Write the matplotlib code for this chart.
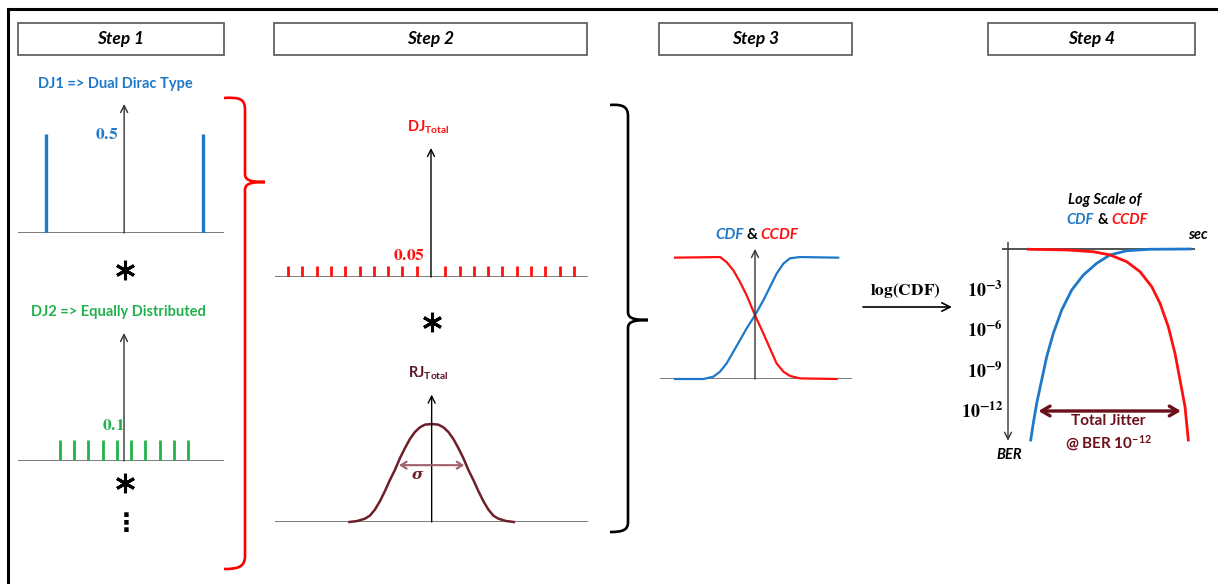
import matplotlib.pyplot as plt
from matplotlib.patches import Rectangle, PathPatch
from matplotlib.path import Path
import numpy as np

plt.rcParams['mathtext.fontset'] = 'custom'
plt.rcParams['mathtext.rm'] = 'STIXGeneral'
plt.rcParams['mathtext.bf'] = 'STIXGeneral:bold'
plt.rcParams['mathtext.it'] = 'STIXGeneral:italic'
plt.rcParams['mathtext.sf'] = 'Lato:bold'
plt.rcParams['font.family'] = ['Lato', 'DejaVu Sans']

# ---- data ----
step_titles = ['Step 1', 'Step 2', 'Step 3', 'Step 4']

# DJ1: dual dirac
dj1_pos = [-1, 1]
dj1_amp = [0.5, 0.5]
# DJ2: equally distributed
dj2_pos = [-4.5, -3.5, -2.5, -1.5, -0.5, 0.5, 1.5, 2.5, 3.5, 4.5]
dj2_amp = [0.1, 0.1, 0.1, 0.1, 0.1, 0.1, 0.1, 0.1, 0.1, 0.1]
# DJ total
djt_pos = [-10, -9, -8, -7, -6, -5, -4, -3, -2, -1,
           1, 2, 3, 4, 5, 6, 7, 8, 9, 10]
djt_amp = [0.05, 0.05, 0.05, 0.05, 0.05, 0.05, 0.05, 0.05, 0.05, 0.05,
           0.05, 0.05, 0.05, 0.05, 0.05, 0.05, 0.05, 0.05, 0.05, 0.05]
# RJ total (sigma units, normalised peak)
rj_t = [-2.65, -2.40, -2.15, -1.99, -1.83, -1.67, -1.51, -1.34, -1.18, -1.02,
        -0.86, -0.70, -0.54, -0.38, -0.22, 0.0,
        0.22, 0.38, 0.54, 0.70, 0.86, 1.02, 1.18, 1.34, 1.51, 1.67,
        1.83, 1.99, 2.15, 2.40, 2.65]
rj_pdf = [0.0, 0.01, 0.034, 0.065, 0.126, 0.211, 0.313, 0.432, 0.534, 0.653,
          0.755, 0.847, 0.918, 0.966, 0.993, 1.0,
          0.993, 0.966, 0.918, 0.847, 0.755, 0.653, 0.534, 0.432, 0.313, 0.211,
          0.126, 0.065, 0.034, 0.01, 0.0]
rj_sigma = 1.05
rj_sigma_level = 0.58

# Step 3: CDF / CCDF
cdf_t = [-2.0, -1.29, -1.04, -0.875, -0.71, -0.54, -0.375, -0.21, 0.0,
         0.21, 0.375, 0.54, 0.71, 0.875, 1.125, 2.08]
cdf_val = [0.0, 0.0, 0.019, 0.06, 0.128, 0.224, 0.319, 0.414, 0.523,
           0.646, 0.755, 0.864, 0.946, 0.99, 1.0, 0.995]
ccdf_t = [-2.0, -0.875, -0.71, -0.54, -0.375, -0.21, 0.0,
          0.21, 0.375, 0.54, 0.71, 0.875, 1.125, 2.04]
ccdf_val = [0.995, 1.0, 0.959, 0.89, 0.796, 0.687, 0.523,
            0.373, 0.25, 0.128, 0.06, 0.025, 0.005, 0.0]

# Step 4: log10(BER) curves
ber_cdf_t = [2.27, 2.53, 2.87, 3.37, 3.87, 4.53, 5.37, 6.37, 7.53, 8.87,
             10.2, 11.87, 14.2, 18.2]
ber_cdf_log = [-14.15, -12.91, -11.43, -9.70, -7.98, -6.25, -4.52, -3.04, -1.93, -1.06,
               -0.44, -0.13, -0.02, 0.0]
ber_ccdf_t = [2.03, 5.87, 8.53, 10.2, 11.87, 13.2, 14.37, 15.2, 16.03, 16.7,
              17.2, 17.7, 18.03]
ber_ccdf_log = [-0.02, -0.07, -0.2, -0.44, -0.94, -1.68, -2.79, -4.02, -5.76, -7.73,
                -9.70, -11.68, -14.15]
ber_ticks = [1e-3, 1e-6, 1e-9, 1e-12]
ber_tick_labels = [r'$\mathbf{10^{-3}}$', r'$\mathbf{10^{-6}}$',
                   r'$\mathbf{10^{-9}}$', r'$\mathbf{10^{-12}}$']
ber_target = 1e-12

BLUE = '#1f78c8'
GREEN = '#22b14c'
RED = '#ff1010'
MAROON = '#6e1f2c'
DARKRED = '#6b0f1a'
GRAY = '#666666'

W, H = 1218, 584
fig = plt.figure(figsize=(12.18, 5.84), dpi=100)
bg = fig.add_axes([0, 0, 1, 1])
bg.set_xlim(0, W)
bg.set_ylim(H, 0)
bg.axis('off')


def panel(x0, x1, ybase, ytop, xlim, ylim, logy=False):
    ax = fig.add_axes([x0 / W, 1 - ybase / H, (x1 - x0) / W, (ybase - ytop) / H])
    if logy:
        ax.set_yscale('log')
    ax.set_xlim(*xlim)
    ax.set_ylim(*ylim)
    ax.axis('off')
    ax.patch.set_alpha(0)
    return ax


def up_arrow(ax, y0, y1, color='#333333'):
    ax.annotate('', xy=(0, y1), xytext=(0, y0),
                arrowprops=dict(arrowstyle='->,head_length=0.5,head_width=0.25',
                                color=color, lw=1.0, shrinkA=0, shrinkB=0),
                annotation_clip=False)


def star(x, y):
    # convolution sign
    bg.plot([x], [y], marker=(6, 2, 0), ms=14, mew=2.2, color='black')


# outer frame
bg.plot([8, 8, W], [H, 9, 9], color='black', lw=2.2, solid_joinstyle='miter')

# step boxes
boxes = [(18, 224), (274, 587), (659, 852), (988, 1195)]
for (bx0, bx1), title in zip(boxes, step_titles):
    bg.add_patch(Rectangle((bx0, 23), bx1 - bx0, 32, fc='white', ec='#555555', lw=1.2))
    bg.text((bx0 + bx1) / 2, 39, title, ha='center', va='center', fontsize=12.5,
            fontweight='bold', style='italic', color='black')

# ---- Step 1: DJ1 ----
ax1 = panel(18, 224, 233, 104, (-1.35, 1.27), (0, 0.65))
ax1.axhline(0, color=GRAY, lw=1.2)
ax1.vlines(dj1_pos, 0, dj1_amp, color=BLUE, lw=2.4)
up_arrow(ax1, 0, 0.65)
ax1.text(-0.07, dj1_amp[0], r'$\mathbf{0.5}$', ha='right', va='center', color=BLUE, fontsize=12.5)
bg.text(115, 84, 'DJ1 => Dual Dirac Type', ha='center', va='center', color=BLUE,
        fontsize=10.5, fontweight='bold')
star(125, 270)

# ---- Step 1: DJ2 ----
ax2 = panel(18, 224, 461, 333, (-7.40, 6.98), (0, 0.61))
ax2.axhline(0, color=GRAY, lw=1.2)
ax2.vlines(dj2_pos, 0, dj2_amp, color=GREEN, lw=2.0)
up_arrow(ax2, 0, 0.61)
ax2.text(0.05, dj2_amp[0] + 0.07, r'$\mathbf{0.1}$', ha='right', va='center', color=GREEN, fontsize=12.5)
bg.text(118, 312, 'DJ2 => Equally Distributed', ha='center', va='center', color=GREEN,
        fontsize=10.5, fontweight='bold')
star(125, 483)
bg.text(126, 524, '\u22ee', ha='center', va='center', fontsize=18, fontweight='bold',
        color='black', family='DejaVu Sans')

# red brace
red_brace = Path(
    [(224, 98), (240, 97), (245, 99), (245, 110),
     (245, 174), (245, 180), (250, 182), (265, 182),
     (250, 182), (245, 184), (245, 190),
     (245, 556), (245, 567), (238, 569), (224, 569)],
    [Path.MOVETO, Path.CURVE4, Path.CURVE4, Path.CURVE4,
     Path.LINETO, Path.CURVE4, Path.CURVE4, Path.CURVE4,
     Path.CURVE4, Path.CURVE4, Path.CURVE4,
     Path.LINETO, Path.CURVE4, Path.CURVE4, Path.CURVE4])
bg.add_patch(PathPatch(red_brace, fc='none', ec='red', lw=1.9))

# ---- Step 2: DJ total ----
ax3 = panel(275, 588, 277, 148, (-10.91, 10.98), (0, 0.586))
ax3.axhline(0, color=GRAY, lw=1.2)
ax3.vlines(djt_pos, 0, djt_amp, color=RED, lw=2.0)
up_arrow(ax3, 0, 0.586, color='black')
ax3.text(-0.4, djt_amp[0] + 0.05, r'$\mathbf{0.05}$', ha='right', va='center', color=RED, fontsize=12.5)
bg.text(428, 132, 'DJ$_{\\mathsf{Total}}$', ha='center', va='baseline', color=RED,
        fontsize=10.5, fontweight='bold')
star(432, 322)

# ---- Step 2: RJ total ----
ax4 = panel(275, 588, 522, 394.6, (-5.05, 5.04), (0, 1.3))
ax4.axhline(0, color=GRAY, lw=1.2)
up_arrow(ax4, 0, 1.3, color='black')
ax4.plot(rj_t, rj_pdf, color=MAROON, lw=1.8, clip_on=False)
ax4.annotate('', xy=(rj_sigma, rj_sigma_level), xytext=(-rj_sigma, rj_sigma_level),
             arrowprops=dict(arrowstyle='<->,head_length=0.4,head_width=0.25',
                             color='#a0606c', lw=1.5, shrinkA=0, shrinkB=0))
ax4.text(-0.45, rj_sigma_level - 0.1, '\u03c3', ha='center', va='center', color=MAROON,
         fontsize=11, style='italic', fontweight='bold', family='DejaVu Serif')
bg.text(428, 378, 'RJ$_{\\mathsf{Total}}$', ha='center', va='baseline', color='#5a1724',
        fontsize=10.5, fontweight='bold')

# black brace
black_brace = Path(
    [(610, 105), (623, 104), (628, 107), (628, 116),
     (628, 312), (628, 318), (633, 320), (648, 320),
     (633, 320), (628, 322), (628, 328),
     (628, 522), (628, 530), (623, 532), (610, 532)],
    [Path.MOVETO, Path.CURVE4, Path.CURVE4, Path.CURVE4,
     Path.LINETO, Path.CURVE4, Path.CURVE4, Path.CURVE4,
     Path.CURVE4, Path.CURVE4, Path.CURVE4,
     Path.LINETO, Path.CURVE4, Path.CURVE4, Path.CURVE4])
bg.add_patch(PathPatch(black_brace, fc='none', ec='black', lw=1.9))

# ---- Step 3: CDF & CCDF ----
ax5 = panel(660, 852, 379, 249, (-2.375, 2.425), (0, 1.066))
ax5.axhline(0, color=GRAY, lw=1.2)
up_arrow(ax5, 0, 1.066)
ax5.plot(cdf_t, cdf_val, color=BLUE, lw=1.6, clip_on=False)
ax5.plot(ccdf_t, ccdf_val, color=RED, lw=1.6, clip_on=False)
bg.text(744, 235, 'CDF', ha='right', va='center', color=BLUE, fontsize=11,
        fontweight='bold', style='italic')
bg.text(752, 235, '&', ha='center', va='center', color='black', fontsize=11, fontweight='bold')
bg.text(760, 235, 'CCDF', ha='left', va='center', color=RED, fontsize=11,
        fontweight='bold', style='italic')

# log(CDF) arrow
bg.annotate('', xy=(952, 307), xytext=(863, 307),
            arrowprops=dict(arrowstyle='->,head_length=0.6,head_width=0.3',
                            color='black', lw=1.2, shrinkA=0, shrinkB=0))
bg.text(905, 291, r'$\mathbf{log(CDF)}$', ha='center', va='center', fontsize=12.5)

# ---- Step 4: log scale ----
ax6 = panel(1002, 1195, 440.7, 240.9, (-0.6, 18.7), (10 ** -14.2, 10 ** 0.6), logy=True)
ax6.axhline(1, color='#333333', lw=1.2)
ax6.annotate('', xy=(0, 10 ** -14.2), xytext=(0, 10 ** 0.5),
             arrowprops=dict(arrowstyle='->,head_length=0.5,head_width=0.25',
                             color='#333333', lw=1.0, shrinkA=0, shrinkB=0),
             annotation_clip=False)
ax6.plot(ber_cdf_t, 10.0 ** np.array(ber_cdf_log), color=BLUE, lw=2.0, clip_on=False)
ax6.plot(ber_ccdf_t, 10.0 ** np.array(ber_ccdf_log), color=RED, lw=2.0, clip_on=False)
for v, lab in zip(ber_ticks, ber_tick_labels):
    ax6.text(-0.5, v, lab, ha='right', va='center', fontsize=13, color='black')

# total jitter at target BER
lvl = np.log10(ber_target)
t_left = np.interp(lvl, ber_cdf_log[:6], ber_cdf_t[:6])
t_right = np.interp(lvl, ber_ccdf_log[::-1][:4], ber_ccdf_t[::-1][:4])
ax6.annotate('', xy=(t_right - 0.45, ber_target), xytext=(t_left + 0.3, ber_target),
             arrowprops=dict(arrowstyle='<->,head_length=0.6,head_width=0.35',
                             color=DARKRED, lw=2.4, shrinkA=0, shrinkB=0))
bg.text(1108, 421, 'Total Jitter', ha='center', va='center', color=DARKRED,
        fontsize=11, fontweight='bold')
bg.text(1108, 443, '@ BER 10$^{\\mathsf{-12}}$', ha='center', va='center', color=DARKRED,
        fontsize=11, fontweight='bold')

bg.text(1105, 200, 'Log Scale of', ha='center', va='center', color='black', fontsize=10.5,
        fontweight='bold', style='italic')
bg.text(1094, 220, 'CDF', ha='right', va='center', color=BLUE, fontsize=10.5,
        fontweight='bold', style='italic')
bg.text(1103, 220, '&', ha='center', va='center', color='black', fontsize=10.5, fontweight='bold')
bg.text(1111, 220, 'CCDF', ha='left', va='center', color=RED, fontsize=10.5,
        fontweight='bold', style='italic')
bg.text(1208, 235, 'sec', ha='right', va='center', color='black', fontsize=10.5,
        fontweight='bold', style='italic')
bg.text(1009, 455, 'BER', ha='center', va='center', color='black', fontsize=10.5,
        fontweight='bold', style='italic')

fig.savefig('out.png', dpi=100)
